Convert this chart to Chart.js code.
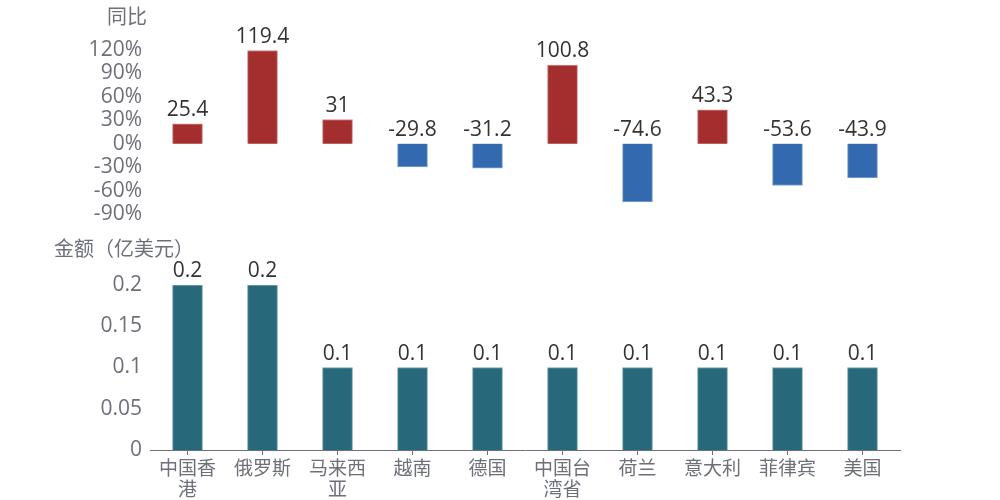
<!DOCTYPE html>
<html>
<head>
<meta charset="utf-8">
<script src="https://cdn.jsdelivr.net/npm/chart.js@4.4.1/dist/chart.umd.min.js"></script>
<style>
  body { margin: 0; background: #fff; }
  #wrap { width: 1000px; height: 500px; }
</style>
</head>
<body>
<div id="wrap"><canvas id="tradeChart"></canvas></div>
<script>
const categories = ['中国香港', '俄罗斯', '马来西亚', '越南', '德国', '中国台湾省', '荷兰', '意大利', '菲律宾', '美国'];
const yoyValues = [25.4, 119.4, 31, -29.8, -31.2, 100.8, -74.6, 43.3, -53.6, -43.9];
const amountValues = [0.2, 0.2, 0.1, 0.1, 0.1, 0.1, 0.1, 0.1, 0.1, 0.1];
const yoyTicks = [-90, -60, -30, 0, 30, 60, 90, 120];
const amountTicks = [0, 0.05, 0.1, 0.15, 0.2];

const axisGray = '#6e7079';
const fontFamily = "'Open Sans', 'Noto Sans CJK SC', sans-serif";
const cjkFamily = "'Noto Sans CJK SC', 'Noto Sans', sans-serif";
const labelFont = { family: fontFamily, size: 21 };

// value labels above each bar (above the zero line for negative bars)
const valueLabels = {
    id: 'valueLabels',
    afterDatasetsDraw(chart) {
        const c = chart.ctx;
        c.save();
        c.font = '21px ' + fontFamily;
        c.fillStyle = '#333';
        c.textAlign = 'center';
        c.textBaseline = 'bottom';
        chart.data.datasets.forEach((ds, i) => {
            chart.getDatasetMeta(i).data.forEach((bar, j) => {
                const top = Math.min(bar.y, bar.base);
                c.fillText(String(ds.data[j]), bar.x, top - 3);
            });
        });
        c.restore();
    }
};

// horizontal axis names over each y axis
const axisNames = {
    id: 'axisNames',
    afterDraw(chart) {
        const c = chart.ctx;
        c.save();
        c.font = '20px ' + cjkFamily;
        c.fillStyle = axisGray;
        c.textAlign = 'center';
        c.textBaseline = 'middle';
        const top = chart.scales.yTop, bot = chart.scales.yBottom;
        c.fillText('同比', top.right - 23, top.getPixelForValue(120) - 34);
        c.fillText('金额（亿美元）', bot.right - 26, bot.getPixelForValue(0.2) - 37);
        c.restore();
    }
};

const ctx = document.getElementById('tradeChart').getContext('2d');
const tradeChart = new Chart(ctx, {
    type: 'bar',
    data: {
        labels: categories,
        datasets: [
            {
                label: '同比',
                data: yoyValues,
                yAxisID: 'yTop',
                grouped: false,
                barThickness: 30,
                backgroundColor: yoyValues.map(v => v >= 0 ? '#a42d2d' : '#336aaf'),
                borderColor: yoyValues.map(v => v >= 0 ? '#cf8a8a' : '#86a6d0'),
                borderWidth: 1
            },
            {
                label: '金额',
                data: amountValues,
                yAxisID: 'yBottom',
                grouped: false,
                barThickness: 30,
                backgroundColor: '#27697a',
                borderColor: '#7ba3ad',
                borderWidth: 1
            }
        ]
    },
    options: {
        responsive: true,
        maintainAspectRatio: false,
        animation: false,
        layout: { padding: { top: 50, right: 100, left: 0, bottom: 0 } },
        plugins: { legend: { display: false }, tooltip: { enabled: false } },
        scales: {
            x: {
                grid: { display: true, drawOnChartArea: false, offset: false, color: axisGray, tickLength: 5 },
                border: { display: true, color: axisGray },
                ticks: {
                    color: axisGray,
                    font: { family: cjkFamily, size: 19, lineHeight: 1.1 },
                    maxRotation: 0,
                    autoSkip: false,
                    padding: 2,
                    callback: function (val, i) {
                        const name = categories[i];
                        return name.length > 3 ? [name.slice(0, 3), name.slice(3)] : name;
                    }
                },
                afterFit: s => { s.height = 50; }
            },
            // stacked scales are placed in reverse order: the first listed ends up at the bottom
            yBottom: {
                type: 'linear',
                position: 'left',
                stack: 'panels',
                stackWeight: 165,
                min: 0,
                max: 0.2,
                grid: { display: false, drawTicks: false },
                border: { display: false },
                ticks: { color: axisGray, font: labelFont, autoSkip: false, padding: 8, callback: v => String(+v.toFixed(2)) },
                afterBuildTicks: s => { s.ticks = amountTicks.map(v => ({ value: v })); },
                afterFit: s => { s.width = 150; }
            },
            yTop: {
                type: 'linear',
                position: 'left',
                stack: 'panels',
                stackWeight: 235,
                min: -181,
                max: 120,
                grid: { display: false, drawTicks: false },
                border: { display: false },
                ticks: { color: axisGray, font: labelFont, autoSkip: false, padding: 8, callback: v => v + '%' },
                afterBuildTicks: s => { s.ticks = yoyTicks.map(v => ({ value: v })); },
                afterFit: s => { s.width = 150; }
            }
        }
    },
    plugins: [valueLabels, axisNames]
});
</script>
</body>
</html>
